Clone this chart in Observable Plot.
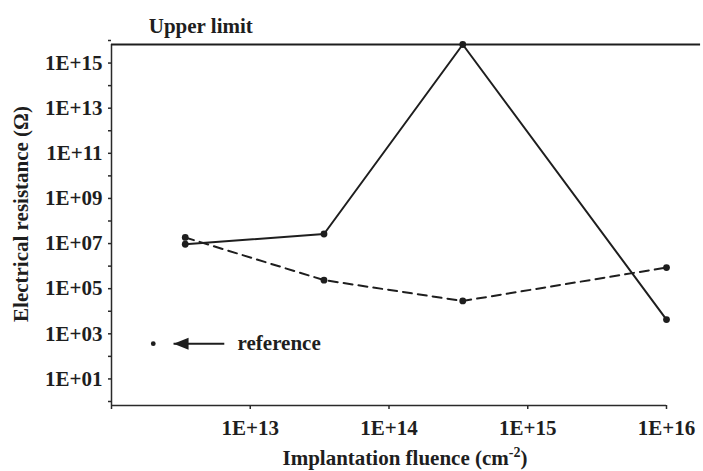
<!DOCTYPE html>
<html>
<head>
<meta charset="utf-8">
<script src="https://cdn.jsdelivr.net/npm/d3@7"></script>
<script src="https://cdn.jsdelivr.net/npm/@observablehq/plot@0.6"></script>
<style>
  html, body { margin: 0; padding: 0; background: #fff; }
  svg text { font-family: "Liberation Serif", "Times New Roman", serif; font-weight: bold; }
</style>
</head>
<body>
<div id="chart"></div>
<script>
// ---- data ----
const fluence = [3.4e12, 3.4e13, 3.4e14, 1e16];          // implantation fluence (cm^-2)
const solidResistance = [1.4e7, 4e7, 1e16, 6.4e3];        // solid series (Ω)
const dashedResistance = [2.8e7, 3.6e5, 4.3e4, 1.3e6];    // dashed series (Ω)
const referencePoint = [2e12, 550];                       // reference sample (x, y)
const upperLimit = 1e16;

// tick values and labels
const xTicks = [1e12, 1e13, 1e14, 1e15, 1e16];
const xTickLabels = ["", "1E+13", "1E+14", "1E+15", "1E+16"];
const yTicks = [1e0, 1e1, 1e2, 1e3, 1e4, 1e5, 1e6, 1e7, 1e8, 1e9, 1e10, 1e11, 1e12, 1e13, 1e14, 1e15, 1e16];
const yTickLabels = ["", "1E+01", "", "1E+03", "", "1E+05", "", "1E+07", "", "1E+09", "", "1E+11", "", "1E+13", "", "1E+15", ""];

// annotation anchors (data units)
const arrowTipX = 2.8e12, arrowTailX = 6.5e12, referenceLabelX = 8.1e12;
const upperLabelX = 4.4e12, upperLineEndX = 1.76e16;

const solid = fluence.map((x, i) => ({x, y: solidResistance[i]}));
const dashed = fluence.map((x, i) => ({x, y: dashedResistance[i]}));

const ink = "#1e1e1e";
const font = {fontFamily: "Liberation Serif", fontSize: 21, fontWeight: "bold"};
const leftArrowHead = {
  draw(context) {
    context.moveTo(0, 0);
    context.lineTo(15, -6);
    context.lineTo(15, 6);
    context.closePath();
  }
};

const chart = Plot.plot({
  width: 703,
  height: 471,
  marginLeft: 111,
  marginRight: 37,
  marginTop: 44,
  marginBottom: 66,
  style: {
    fontFamily: "Liberation Serif",
    fontSize: "21px",
    fontWeight: "bold",
    color: ink,
    background: "#fff"
  },
  x: {type: "log", domain: [1e12, 1e16]},
  y: {type: "log", domain: [1, 1e16]},
  marks: [
    Plot.axisX({
      ticks: xTicks,
      tickFormat: (d) => xTickLabels[xTicks.indexOf(d)],
      tickSize: 4,
      tickPadding: 11,
      stroke: "#2a2a2a",
      strokeWidth: 1.5,
      label: null,
      ...font
    }),
    Plot.axisY({
      ticks: yTicks,
      tickFormat: (d) => yTickLabels[yTicks.indexOf(d)],
      tickSize: 3,
      tickPadding: 6,
      dy: -4,
      stroke: "#2a2a2a",
      strokeWidth: 1.5,
      label: null,
      ...font
    }),
    Plot.ruleX([1e12], {stroke: "#2a2a2a", strokeWidth: 1.5}),
    Plot.ruleY([1], {x1: 1e12, x2: 1e16, stroke: "#2a2a2a", strokeWidth: 1.5}),
    // upper limit line
    Plot.ruleY([upperLimit], {x1: 1e12, x2: upperLineEndX, stroke: ink, strokeWidth: 2}),
    Plot.text(["Upper limit"], {x: upperLabelX, y: upperLimit, dy: -18, textAnchor: "middle", fill: ink, ...font}),
    // series
    Plot.line(dashed, {x: "x", y: "y", stroke: ink, strokeWidth: 2, strokeDasharray: "9,6"}),
    Plot.line(solid, {x: "x", y: "y", stroke: ink, strokeWidth: 2}),
    Plot.dot(dashed, {x: "x", y: "y", r: 3.4, fill: ink}),
    Plot.dot(solid, {x: "x", y: "y", r: 3.4, fill: ink}),
    // reference annotation
    Plot.dot([referencePoint], {x: d => d[0], y: d => d[1], r: 2.4, fill: ink}),
    Plot.link([referencePoint], {x1: arrowTipX, x2: arrowTailX, y1: d => d[1], y2: d => d[1], stroke: ink, strokeWidth: 2}),
    Plot.dot([referencePoint], {x: arrowTipX, y: d => d[1], symbol: leftArrowHead, r: 5, fill: ink, stroke: "none"}),
    Plot.text(["reference"], {x: referenceLabelX, y: referencePoint[1], textAnchor: "start", fill: ink, ...font})
  ]
});

// axis titles (with superscript)
const svg = d3.select(chart);
svg.append("text")
  .attr("transform", "translate(28,214) rotate(-90)")
  .attr("text-anchor", "middle")
  .attr("font-family", "Liberation Serif")
  .attr("font-size", 21)
  .attr("font-weight", "bold")
  .attr("fill", ink)
  .text("Electrical resistance (Ω)");

const xt = svg.append("text")
  .attr("x", 405)
  .attr("y", 465)
  .attr("text-anchor", "middle")
  .attr("font-family", "Liberation Serif")
  .attr("font-size", 21)
  .attr("font-weight", "bold")
  .attr("fill", ink);
xt.append("tspan").text("Implantation fluence (cm");
xt.append("tspan").attr("font-size", 14).attr("dy", -8).text("-2");
xt.append("tspan").attr("dy", 8).text(")");

document.getElementById("chart").appendChild(chart);
</script>
</body>
</html>
